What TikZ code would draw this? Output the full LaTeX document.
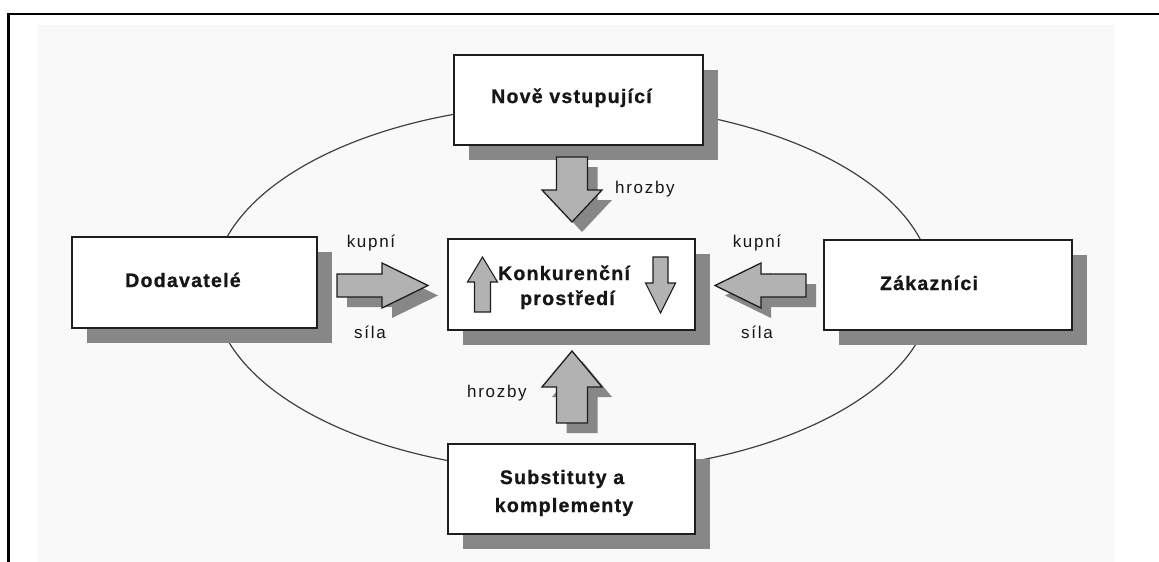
\documentclass[tikz,border=0pt]{standalone}
\usepackage{fontspec}
\setmainfont{Liberation Sans}
\newfontface\boxfont[LetterSpace=6.5,FakeBold=1]{Liberation Sans Bold}
\newfontfamily\lblfont[LetterSpace=10]{Liberation Sans}
\usetikzlibrary{shadows}
\definecolor{bggray}{HTML}{F9F9F9}
\definecolor{shadowgray}{HTML}{878787}
\definecolor{arrowfill}{HTML}{B2B2B2}
\definecolor{linecol}{HTML}{1E1E1E}
\definecolor{textcol}{HTML}{161616}
\tikzset{
  boxnode/.style={draw=linecol, line width=1.4pt, fill=white, inner sep=0pt,
    minimum width=248pt, minimum height=90pt,
    drop shadow={shadow xshift=15pt, shadow yshift=-15pt, fill=shadowgray, opacity=1}},
  boxtext/.style={font=\boxfont\fontsize{19.5}{25}\selectfont, text=textcol, anchor=base, inner sep=0pt},
  lbl/.style={font=\lblfont\fontsize{17}{20}\selectfont, text=textcol, anchor=base, inner sep=0pt},
  barrow/.style={draw=linecol, line width=1.3pt, fill=arrowfill, line join=miter},
  bshadow/.style={fill=shadowgray}
}
\begin{document}
\begin{tikzpicture}[x=1pt,y=-1pt]
\useasboundingbox (0,0) rectangle (1159,562);
% background
\fill[bggray] (37,25) rectangle (1115,562);
\draw[black, line width=2.6pt] (8.3,562) -- (8.3,13.8) -- (1159,13.8);
% ellipse
\draw[linecol!85, line width=1.2pt] (573,288) ellipse [x radius=360, y radius=184];

% boxes
\node[boxnode, minimum width=249pt] (nove) at (578.5,100) {};
\node[boxnode, minimum width=245pt, minimum height=91pt] (dodav) at (194.5,282.5) {};
\node[boxnode] (zakaz) at (948,285) {};
\node[boxnode, minimum width=247pt, minimum height=91pt] (konk) at (571.5,284.5) {};
\node[boxnode, minimum width=247pt] (subst) at (571.5,489) {};

% box texts
\node[boxtext] (tnove) at (571.5,103) {Nově vstupující};
\node[boxtext] (tdodav) at (183,287) {Dodavatelé};
\node[boxtext] (tzakaz) at (929,290) {Zákazníci};
\node[boxtext] (tkonk1) at (564,280) {Konkurenční};
\node[boxtext] (tkonk2) at (567.5,305) {prostředí};
\node[boxtext] (tsubst1) at (562,484) {Substituty a};
\node[boxtext] (tsubst2) at (564,512) {komplementy};

% block arrows: shadows
\begin{scope}[shift={(10,10)}]
\fill[bshadow] (556.5,157) -- (587.5,157) -- (587.5,190) -- (602,190) -- (572,222) -- (542,190) -- (556.5,190) -- cycle;
\fill[bshadow] (556.5,423) -- (587.5,423) -- (587.5,387) -- (602,387) -- (572,351) -- (542,387) -- (556.5,387) -- cycle;
\fill[bshadow] (337,274) -- (382,274) -- (382,263) -- (428,285.5) -- (382,308) -- (382,297) -- (337,297) -- cycle;
\fill[bshadow] (806,274) -- (761,274) -- (761,263) -- (715,285.5) -- (761,308) -- (761,297) -- (806,297) -- cycle;
\end{scope}
% block arrows
\draw[barrow] (556.5,157) -- (587.5,157) -- (587.5,190) -- (602,190) -- (572,222) -- (542,190) -- (556.5,190) -- cycle;
\draw[barrow] (556.5,423) -- (587.5,423) -- (587.5,387) -- (602,387) -- (572,351) -- (542,387) -- (556.5,387) -- cycle;
\draw[barrow] (337,274) -- (382,274) -- (382,263) -- (428,285.5) -- (382,308) -- (382,297) -- (337,297) -- cycle;
\draw[barrow] (806,274) -- (761,274) -- (761,263) -- (715,285.5) -- (761,308) -- (761,297) -- (806,297) -- cycle;
% small arrows in the centre box
\draw[barrow, line width=1.1pt] (474.5,312) -- (490.5,312) -- (490.5,282) -- (497.5,282) -- (482.5,257) -- (467.5,282) -- (474.5,282) -- cycle;
\draw[barrow, line width=1.1pt] (653,257) -- (668,257) -- (668,283) -- (675.5,283) -- (660.5,313) -- (645.5,283) -- (653,283) -- cycle;

% labels
\node[lbl] (hrozby1) at (645,193) {hrozby};
\node[lbl] (hrozby2) at (497,397) {hrozby};
\node[lbl] (kupniL) at (371,247) {kupní};
\node[lbl] (silaL) at (370,338) {síla};
\node[lbl] (kupniR) at (757,247) {kupní};
\node[lbl] (silaR) at (757,338) {síla};
\end{tikzpicture}
\end{document}
